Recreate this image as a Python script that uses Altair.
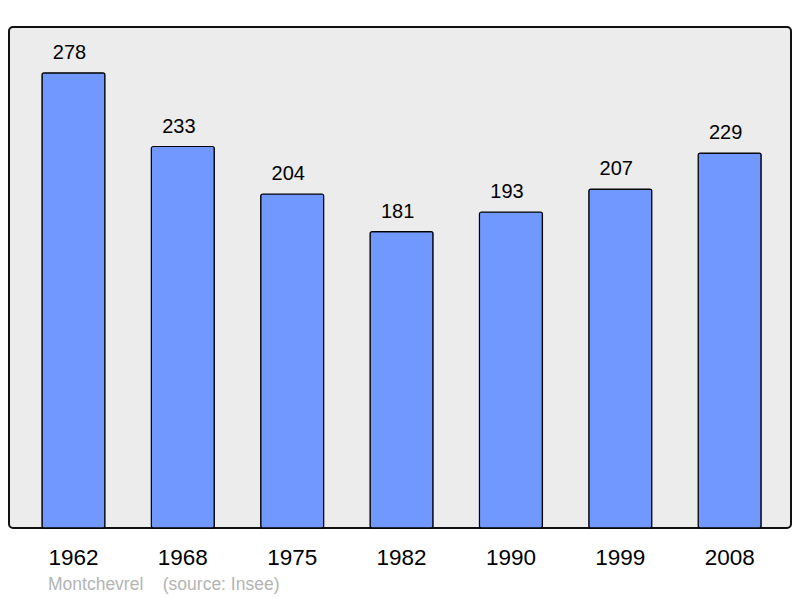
import altair as alt
import pandas as pd

years = ["1962", "1968", "1975", "1982", "1990", "1999", "2008"]
population = [278, 233, 204, 181, 193, 207, 229]

df = pd.DataFrame({"year": years, "pop": population})

x = alt.X("year:N", sort=years,
          scale=alt.Scale(paddingInner=0.424, paddingOuter=0.287, align=0.525),
          axis=alt.Axis(title=None, domain=False, ticks=False, labelAngle=0,
                        labelFontSize=22.5, labelFont="Liberation Sans",
                        labelColor="#000", labelPadding=18))
y = alt.Y("pop:Q", scale=alt.Scale(domain=[0, 306], nice=False, zero=True),
          axis=None)

bars = alt.Chart(df).mark_bar(color="#7098ff", stroke="#000", strokeWidth=1.2,
                              cornerRadius=2).encode(x=x, y=y)
labels = alt.Chart(df).mark_text(baseline="alphabetic", dy=-14, dx=-4, fontSize=20,
                                 font="Liberation Sans", color="#000").encode(
    x=x, y=y, text="pop:Q")

chart = alt.layer(bars, labels).properties(
    width=782, height=501,
    autosize=alt.AutoSizeParams(type="none"),
    padding={"left": 1, "top": 19, "right": 1, "bottom": 70},
    title=alt.TitleParams(text="Montchevrel" + "\u00a0" * 4 + "(source: Insee)",
                          orient="bottom", anchor="start", dx=39, offset=7,
                          fontSize=17.5, font="Liberation Sans", fontWeight="normal",
                          color="#b4b4b4"),
).configure_view(fill="#ececec", stroke="#111", strokeWidth=2, cornerRadius=4)

chart.save("out.html", embed_options={"renderer": "svg", "actions": False})
